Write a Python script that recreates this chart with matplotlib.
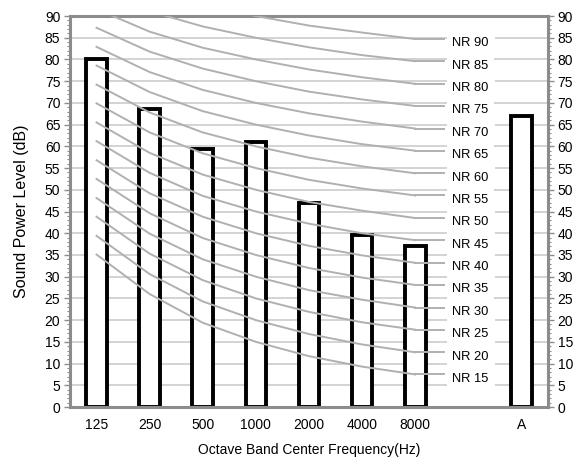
import numpy as np
import matplotlib.pyplot as plt
from matplotlib.ticker import MultipleLocator

plt.rcParams['font.family'] = ['Liberation Sans', 'DejaVu Sans']

# octave bands (one empty slot before the A-weighted total)
categories = ['125', '250', '500', '1000', '2000', '4000', '8000', '', 'A']
levels = [80, 68.5, 59.5, 61, 47, 39.5, 37, None, 67]

# NR curves, values at 125 ... 8000 Hz
nr_freqs = ['125', '250', '500', '1000', '2000', '4000', '8000']
nr_15 = [35.1, 26.0, 19.4, 15, 11.7, 9.3, 7.5]
nr_20 = [39.4, 30.6, 24.3, 20, 16.8, 14.4, 12.6]
nr_25 = [43.8, 35.3, 29.2, 25, 21.9, 19.5, 17.8]
nr_30 = [48.1, 39.9, 34.0, 30, 26.9, 24.7, 22.9]
nr_35 = [52.5, 44.6, 38.9, 35, 32.0, 29.8, 28.1]
nr_40 = [56.8, 49.2, 43.8, 40, 37.1, 34.9, 33.2]
nr_45 = [61.2, 53.9, 48.6, 45, 42.2, 40.0, 38.4]
nr_50 = [65.5, 58.5, 53.5, 50, 47.2, 45.2, 43.5]
nr_55 = [69.9, 63.2, 58.4, 55, 52.3, 50.3, 48.7]
nr_60 = [74.2, 67.8, 63.2, 60, 57.4, 55.4, 53.8]
nr_65 = [78.6, 72.5, 68.1, 65, 62.5, 60.5, 59.0]
nr_70 = [82.9, 77.1, 73.0, 70, 67.6, 65.7, 64.1]
nr_75 = [87.3, 81.8, 77.9, 75, 72.6, 70.8, 69.3]
nr_80 = [91.6, 86.4, 82.7, 80, 77.7, 75.9, 74.4]
nr_85 = [96.0, 91.1, 87.6, 85, 82.8, 81.0, 79.6]
nr_90 = [100.3, 95.7, 92.5, 90, 87.8, 86.2, 84.7]
nr_names = ['NR 15', 'NR 20', 'NR 25', 'NR 30', 'NR 35', 'NR 40', 'NR 45', 'NR 50',
            'NR 55', 'NR 60', 'NR 65', 'NR 70', 'NR 75', 'NR 80', 'NR 85', 'NR 90']
nr_curves = [nr_15, nr_20, nr_25, nr_30, nr_35, nr_40, nr_45, nr_50,
             nr_55, nr_60, nr_65, nr_70, nr_75, nr_80, nr_85, nr_90]

fig = plt.figure(figsize=(5.79, 4.62), dpi=100)
ax = fig.add_axes([0.1209, 0.119, 0.8256, 0.8463])

x = np.arange(len(categories))
for xi, v in zip(x, levels):
    if v is None:
        continue
    ax.bar(xi, v, width=0.39, color='white', edgecolor='black', linewidth=2.8, zorder=2)

gray = '#8c8c8c'
xc = np.arange(len(nr_freqs))
for name, vals in zip(nr_names, nr_curves):
    ax.plot(xc, vals, color='#b0b0b0', lw=1.4, zorder=3, solid_joinstyle='round')
    # short leader to the label
    ax.plot([xc[-1], 6.55], [vals[-1], vals[-1]], color='#b0b0b0', lw=1.4, zorder=3)
    ax.text(6.7, vals[-1] - 1.0, name, fontsize=9.3, ha='left', va='center', zorder=4,
            bbox=dict(boxstyle='square,pad=0.45', fc='white', ec='none'))

ax.set_xlim(-0.5, len(categories) - 0.5)
ax.set_ylim(0, 90)
ax.set_xticks(x)
ax.set_xticklabels(categories, fontsize=10)
ax.yaxis.set_major_locator(MultipleLocator(5))
ax.yaxis.set_minor_locator(MultipleLocator(1))
ax.grid(axis='y', color='#c8c8c8', lw=1.1, zorder=0)
ax.set_axisbelow(True)

ax.tick_params(axis='x', length=0, pad=8)
ax.tick_params(axis='y', which='major', length=4, width=1, color=gray, labelsize=10,
               left=True, right=True, labelleft=True, labelright=True, pad=3)
ax.tick_params(axis='y', which='minor', length=2.5, width=0.8, color=gray,
               left=True, right=True)
for s in ax.spines.values():
    s.set_color(gray)
    s.set_linewidth(2.2)

ax.set_ylabel('Sound Power Level (dB)', fontsize=11.5, labelpad=11)
ax.set_xlabel('Octave Band Center Frequency(Hz)', fontsize=10, labelpad=8)

fig.savefig('out.png', dpi=100)
